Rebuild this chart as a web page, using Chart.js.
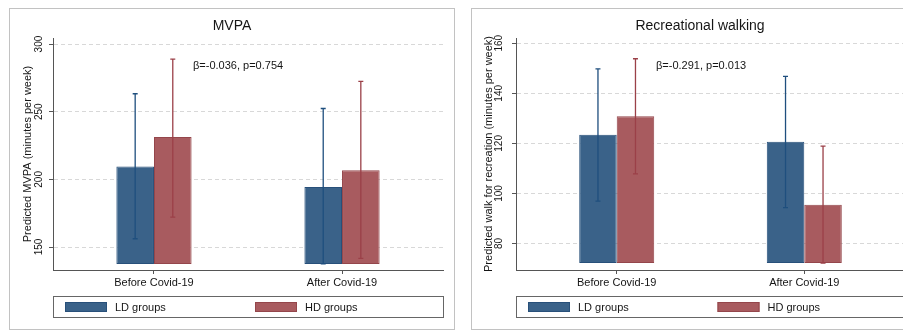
<!DOCTYPE html>
<html>
<head>
<meta charset="utf-8">
<script src="https://cdn.jsdelivr.net/npm/chart.js@4.4.0/dist/chart.umd.min.js"></script>
<style>
  body { margin: 0; background: #fff; width: 903px; height: 333px; overflow: hidden; position: relative; }
  .panel { position: absolute; top: 8px; width: 444px; height: 320px; border: 1px solid #c2c2c2; background: #fff; }
  #p1 { left: 9px; }
  #p2 { left: 471px; }
  canvas { display: block; }
</style>
</head>
<body>
<div class="panel" id="p1"><canvas id="mvpaChart" width="444" height="320"></canvas></div>
<div class="panel" id="p2"><canvas id="walkChart" width="444" height="320"></canvas></div>
<script>
const categories = ['Before Covid-19', 'After Covid-19'];
const groupLabels = ['LD groups', 'HD groups'];

// MVPA panel
const mvpaLd = [209.6, 194.3];
const mvpaLdLow = [156.1, 137.5];
const mvpaLdHigh = [263.3, 252.4];
const mvpaHd = [231.3, 206.7];
const mvpaHdLow = [172.1, 141.6];
const mvpaHdHigh = [288.9, 272.4];
const mvpaTicks = [150, 200, 250, 300];

// Recreational walking panel
const walkLd = [123.4, 120.6];
const walkLdLow = [96.9, 94.3];
const walkLdHigh = [149.8, 146.8];
const walkHd = [130.8, 95.5];
const walkHdLow = [107.8, 72.2];
const walkHdHigh = [153.8, 118.9];
const walkTicks = [80, 100, 120, 140, 160];

const FONT = "'Liberation Sans', Arial, sans-serif";
const INK = '#151515';
const AXIS = '#555';
const colors = {
  ld: { fill: '#3a6289', border: '#28507a', err: '#1f4f7e' },
  hd: { fill: '#a85b5f', border: '#94464b', err: '#9b4048' }
};

// category i sits at x = i + 1 on a linear axis
const toPoints = (vals) => vals.map((v, i) => ({ x: i + 1, y: v }));

const panelPlugin = {
  id: 'stataPanel',
  afterDatasetsDraw(chart, args, opts) {
    const { ctx, scales: { y } } = chart;
    opts.errors.forEach((err, i) => {
      const meta = chart.getDatasetMeta(i);
      ctx.save();
      ctx.strokeStyle = err.color;
      ctx.lineWidth = 1.3;
      meta.data.forEach((bar, j) => {
        const top = y.getPixelForValue(err.high[j]);
        const bot = y.getPixelForValue(err.low[j]);
        ctx.beginPath();
        ctx.moveTo(bar.x, top); ctx.lineTo(bar.x, bot);
        ctx.moveTo(bar.x - 2.5, top); ctx.lineTo(bar.x + 2.5, top);
        ctx.moveTo(bar.x - 2.5, bot); ctx.lineTo(bar.x + 2.5, bot);
        ctx.stroke();
      });
      ctx.restore();
    });
  },
  afterDraw(chart, args, opts) {
    const { ctx, chartArea: area, scales: { y } } = chart;
    ctx.save();
    ctx.fillStyle = INK;

    ctx.font = `14px ${FONT}`;
    ctx.textAlign = 'center';
    ctx.textBaseline = 'middle';
    ctx.fillText(opts.title, opts.titleX, 17);

    // rotated y tick labels
    ctx.font = `10px ${FONT}`;
    opts.ticks.forEach((v) => {
      ctx.save();
      ctx.translate(opts.tickX, y.getPixelForValue(v));
      ctx.rotate(-Math.PI / 2);
      ctx.fillText(String(v), 0, 0);
      ctx.restore();
    });

    ctx.font = `11px ${FONT}`;
    ctx.save();
    ctx.translate(opts.yTitleX, (area.top + area.bottom) / 2);
    ctx.rotate(-Math.PI / 2);
    ctx.fillText(opts.yTitle, 0, 0);
    ctx.restore();

    ctx.textAlign = 'left';
    ctx.fillText(opts.note, area.left + 140, area.top + 28);

    // legend box
    const top = 287, h = 21;
    ctx.strokeStyle = '#666';
    ctx.lineWidth = 1;
    ctx.strokeRect(area.left + 0.5, top + 0.5, area.right - area.left, h);
    const half = (area.right - area.left) / 2;
    [colors.ld, colors.hd].forEach((c, i) => {
      const sx = area.left + 12 + i * (half - 5);
      ctx.fillStyle = c.fill;
      ctx.fillRect(sx, top + 6, 42, 10);
      ctx.strokeStyle = c.border;
      ctx.strokeRect(sx + 0.5, top + 6.5, 41, 9);
      ctx.fillStyle = INK;
      ctx.fillText(groupLabels[i], sx + 50, top + 11.5);
    });
    ctx.restore();
  }
};

function makeChart(id, cfg) {
  const canvas = document.getElementById(id);
  return new Chart(canvas, {
    type: 'bar',
    data: {
      datasets: [
        { label: groupLabels[0], data: toPoints(cfg.ld), base: cfg.base, backgroundColor: colors.ld.fill, borderColor: colors.ld.border, borderWidth: 1, borderSkipped: false },
        { label: groupLabels[1], data: toPoints(cfg.hd), base: cfg.base, backgroundColor: colors.hd.fill, borderColor: colors.hd.border, borderWidth: 1, borderSkipped: false }
      ]
    },
    options: {
      responsive: false,
      animation: false,
      devicePixelRatio: 1,
      categoryPercentage: 0.4,
      barPercentage: 1,
      layout: { padding: { top: 29, right: 11, left: 0, bottom: 0 } },
      plugins: {
        legend: { display: false },
        tooltip: { enabled: false },
        stataPanel: {
          title: cfg.title, titleX: cfg.titleX, yTitle: cfg.yTitle, note: cfg.note,
          ticks: cfg.ticks, tickX: cfg.tickX, yTitleX: cfg.yTitleX,
          errors: [
            { low: cfg.ldLow, high: cfg.ldHigh, color: colors.ld.err },
            { low: cfg.hdLow, high: cfg.hdHigh, color: colors.hd.err }
          ]
        }
      },
      scales: {
        x: {
          type: 'linear',
          min: 0.463,
          max: 2.537,
          offset: false,
          grid: { drawOnChartArea: false, offset: false, drawTicks: true, tickLength: 4, tickColor: AXIS, color: AXIS },
          border: { color: AXIS, width: 1 },
          ticks: {
            color: INK, font: { family: FONT, size: 11 }, padding: 2, maxRotation: 0,
            callback: (v) => categories[v - 1]
          },
          afterBuildTicks: (s) => { s.ticks = categories.map((c, i) => ({ value: i + 1 })); },
          afterFit: (s) => { s.height = 59; }
        },
        y: {
          min: cfg.min,
          max: cfg.max,
          grid: { color: '#d8d8d8', lineWidth: 1, drawTicks: true, tickLength: 4, tickColor: AXIS },
          border: { color: AXIS, width: 1, dash: [4, 3] },
          ticks: { display: false },
          afterBuildTicks: (s) => { s.ticks = cfg.ticks.map((v) => ({ value: v })); },
          afterFit: (s) => { s.width = cfg.left; }
        }
      }
    },
    plugins: [panelPlugin]
  });
}

makeChart('mvpaChart', {
  title: 'MVPA', titleX: 222, yTitle: 'Predicted MVPA (minutes per week)', note: 'β=-0.036, p=0.754',
  ld: mvpaLd, ldLow: mvpaLdLow, ldHigh: mvpaLdHigh,
  hd: mvpaHd, hdLow: mvpaHdLow, hdHigh: mvpaHdHigh,
  ticks: mvpaTicks, min: 133, max: 304.5, base: 137.5,
  left: 43, tickX: 29, yTitleX: 17.5
});

makeChart('walkChart', {
  title: 'Recreational walking', titleX: 228, yTitle: 'Predicted walk for recreation (minutes per week)', note: 'β=-0.291, p=0.013',
  ld: walkLd, ldLow: walkLdLow, ldHigh: walkLdHigh,
  hd: walkHd, hdLow: walkHdLow, hdHigh: walkHdHigh,
  ticks: walkTicks, min: 69.4, max: 162.1, base: 72.2,
  left: 44, tickX: 27, yTitleX: 17
});
</script>
</body>
</html>
